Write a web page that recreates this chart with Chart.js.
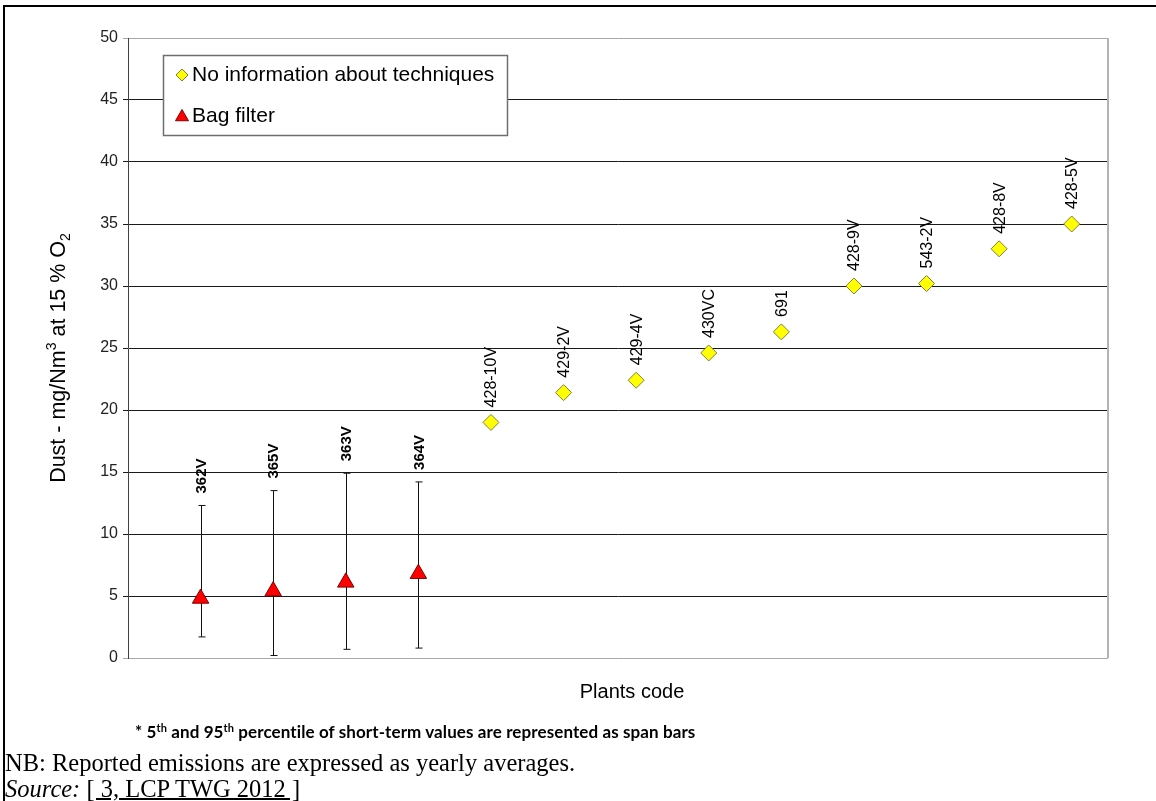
<!DOCTYPE html>
<html>
<head>
<meta charset="utf-8">
<script src="https://cdn.jsdelivr.net/npm/chart.js@4/dist/chart.umd.min.js"></script>
<style>
  body { margin: 0; background: #fff; }
  #wrap { position: relative; width: 1156px; height: 801px; overflow: hidden; }
  #frame { position: absolute; left: 3px; top: 5px; width: 1160px; height: 800px;
           border-left: 2px solid #000; border-top: 2px solid #000; }
  canvas { position: absolute; left: 0; top: 0; }
  .txt { position: absolute; white-space: nowrap; color: #000; line-height: 1; }
  #xtitle { left: 632px; top: 680px; transform: translateX(-50%);
            font: 20px "Liberation Sans", Arial, sans-serif; }
  #note { left: 135px; top: 721px; font: bold 17px Lato, "Open Sans", sans-serif; letter-spacing: 0.1px; }
  #note sup { font-size: 11px; vertical-align: 6px; line-height: 0; }
  #nb { left: 5px; top: 749px; font: 24.5px "Liberation Serif", "Times New Roman", serif; }
  #src { left: 5px; top: 775px; font: 24.5px "Liberation Serif", "Times New Roman", serif; }
  #src u { text-decoration: underline; text-underline-offset: 1px; }
</style>
</head>
<body>
<div id="wrap">
  <div id="frame"></div>
  <canvas id="chart" width="1156" height="801"></canvas>
  <div class="txt" id="xtitle">Plants code</div>
  <div class="txt" id="note">* 5<sup>th</sup> and 95<sup>th</sup> percentile of short-term values are represented as span bars</div>
  <div class="txt" id="nb">NB: Reported emissions are expressed as yearly averages.</div>
  <div class="txt" id="src"><i>Source:</i> <u>[ 3, LCP TWG 2012 ]</u></div>
</div>
<script>
"use strict";

// Plant codes in plotting order (first four: bag filter, rest: no info)
const plantCodes = ['362V', '365V', '363V', '364V', '428-10V', '429-2V', '429-4V',
                    '430VC', '691', '428-9V', '543-2V', '428-8V', '428-5V'];

// Bag filter plants: yearly average and 5th / 95th percentile span
const bagFilterValues = [4.8, 5.4, 6.1, 6.8];
const bagFilterP5 = [1.7, 0.2, 0.7, 0.8];
const bagFilterP95 = [12.3, 13.5, 14.9, 14.2];

// Plants without information about techniques
const noInfoValues = [19.0, 21.4, 22.4, 24.6, 26.3, 30.0, 30.2, 33.0, 35.0];

const yMin = 0, yMax = 50, yStep = 5;

const bagPoints = bagFilterValues.map((v, i) => ({ x: i + 1, y: v }));
const noInfoPoints = noInfoValues.map((v, i) => ({ x: bagFilterValues.length + i + 1, y: v }));

const ARIAL = '"Liberation Sans", Arial, sans-serif';

function drawDiamond(ctx, x, y, r) {
    ctx.beginPath();
    ctx.moveTo(x, y - r); ctx.lineTo(x + r, y); ctx.lineTo(x, y + r); ctx.lineTo(x - r, y);
    ctx.closePath();
    ctx.fillStyle = '#ffff00'; ctx.fill();
    ctx.strokeStyle = '#7f7f3f'; ctx.lineWidth = 1; ctx.stroke();
}

function drawTriangle(ctx, x, y, r) {
    ctx.beginPath();
    ctx.moveTo(x, y - r);
    ctx.lineTo(x + r * 0.866, y + r * 0.5);
    ctx.lineTo(x - r * 0.866, y + r * 0.5);
    ctx.closePath();
    ctx.fillStyle = '#ff0000'; ctx.fill();
    ctx.strokeStyle = '#7f0000'; ctx.lineWidth = 1; ctx.stroke();
}

function drawVerticalLabel(ctx, text, x, y, bold) {
    ctx.save();
    ctx.translate(x, y);
    ctx.rotate(-Math.PI / 2);
    ctx.font = bold ? 'bold 15px ' + ARIAL : '16px ' + ARIAL;
    ctx.textAlign = 'left';
    ctx.textBaseline = 'middle';
    ctx.fillStyle = '#000';
    ctx.fillText(text, 0, 1);
    ctx.restore();
}

// span bars under the markers
const spanBars = {
    id: 'spanBars',
    beforeDatasetsDraw(chart) {
        const ctx = chart.ctx, ys = chart.scales.y, xs = chart.scales.x;
        ctx.save();
        ctx.strokeStyle = '#111';
        ctx.lineWidth = 1;
        bagPoints.forEach((p, i) => {
            const x = Math.round(xs.getPixelForValue(p.x)) + 0.5;
            const top = ys.getPixelForValue(bagFilterP95[i]);
            const bot = ys.getPixelForValue(bagFilterP5[i]);
            ctx.beginPath();
            ctx.moveTo(x, top); ctx.lineTo(x, bot);
            ctx.moveTo(x - 3, top); ctx.lineTo(x + 4, top);
            ctx.moveTo(x - 3, bot); ctx.lineTo(x + 4, bot);
            ctx.stroke();
        });
        ctx.restore();
    }
};

// point labels, legend box, y title, right border
const decorations = {
    id: 'decorations',
    afterDatasetsDraw(chart) {
        const ctx = chart.ctx, ys = chart.scales.y, xs = chart.scales.x;
        const area = chart.chartArea;

        // right border of plot area
        ctx.save();
        ctx.strokeStyle = '#b4b4b4';
        ctx.lineWidth = 2;
        ctx.beginPath();
        ctx.moveTo(area.right, area.top);
        ctx.lineTo(area.right, area.bottom);
        ctx.stroke();
        ctx.restore();

        // labels
        bagPoints.forEach((p, i) => {
            const x = xs.getPixelForValue(p.x);
            const y = ys.getPixelForValue(bagFilterP95[i]) - 12;
            drawVerticalLabel(ctx, plantCodes[i], x, y, true);
        });
        noInfoPoints.forEach((p, i) => {
            const x = xs.getPixelForValue(p.x);
            const y = ys.getPixelForValue(p.y) - 15;
            drawVerticalLabel(ctx, plantCodes[bagFilterValues.length + i], x, y, false);
        });

        // legend
        const lx = area.left + 35, ly = area.top + 17, lw = 344, lh = 80;
        ctx.save();
        ctx.fillStyle = '#fff';
        ctx.fillRect(lx, ly, lw, lh);
        ctx.strokeStyle = '#6f6f6f';
        ctx.lineWidth = 1.5;
        ctx.strokeRect(lx + 0.5, ly + 0.5, lw, lh);
        drawDiamond(ctx, lx + 19, ly + 20, 6);
        drawTriangle(ctx, lx + 19, ly + 62, 7.5);
        ctx.font = '21px ' + ARIAL;
        ctx.fillStyle = '#000';
        ctx.textAlign = 'left';
        ctx.textBaseline = 'middle';
        ctx.fillText(chart.data.datasets[0].label, lx + 29, ly + 20);
        ctx.fillText(chart.data.datasets[1].label, lx + 29, ly + 61);
        ctx.restore();

        // y axis title with super/subscript
        const parts = [
            { t: 'Dust - mg/Nm', s: 21.5, dy: 0 },
            { t: '3', s: 14, dy: -8 },
            { t: ' at 15 % O', s: 21.5, dy: 0 },
            { t: '2', s: 14, dy: 6 }
        ];
        ctx.save();
        let total = 0;
        parts.forEach(p => { ctx.font = p.s + 'px ' + ARIAL; p.w = ctx.measureText(p.t).width; total += p.w; });
        ctx.translate(59, (area.top + area.bottom) / 2 + 10);
        ctx.rotate(-Math.PI / 2);
        ctx.fillStyle = '#000';
        ctx.textBaseline = 'middle';
        ctx.textAlign = 'left';
        let cx = -total / 2;
        parts.forEach(p => {
            ctx.font = p.s + 'px ' + ARIAL;
            ctx.fillText(p.t, cx, p.dy + (p.s > 20 ? 0 : 1));
            cx += p.w;
        });
        ctx.restore();
    }
};

new Chart(document.getElementById('chart').getContext('2d'), {
    type: 'scatter',
    data: {
        datasets: [
            {
                label: 'No information about techniques',
                data: noInfoPoints,
                pointStyle: 'rectRot',
                pointRadius: 8,
                backgroundColor: '#ffff00',
                borderColor: '#7f7f3f',
                borderWidth: 1
            },
            {
                label: 'Bag filter',
                data: bagPoints,
                pointStyle: 'triangle',
                pointRadius: 9.5,
                backgroundColor: '#ff0000',
                borderColor: '#7f0000',
                borderWidth: 1
            }
        ]
    },
    options: {
        responsive: false,
        animation: false,
        layout: { padding: { top: 38, right: 48, bottom: 0, left: 0 } },
        plugins: { legend: { display: false }, tooltip: { enabled: false } },
        scales: {
            x: {
                type: 'linear',
                min: 0,
                max: plantCodes.length + 0.5,
                grid: { display: false },
                border: { display: false },
                ticks: { display: false },
                afterFit(scale) { scale.height = 143; }
            },
            y: {
                min: yMin,
                max: yMax,
                ticks: {
                    stepSize: yStep,
                    padding: 5,
                    color: '#222',
                    font: { family: ARIAL, size: 16 }
                },
                grid: {
                    tickLength: 5,
                    lineWidth: 1,
                    color: c => (c.tick && (c.tick.value === yMin || c.tick.value === yMax)) ? '#a8a8a8' : '#1a1a1a'
                },
                border: { color: '#404040', width: 1 },
                afterFit(scale) { scale.width = 128; }
            }
        }
    },
    plugins: [spanBars, decorations]
});
</script>
</body>
</html>
